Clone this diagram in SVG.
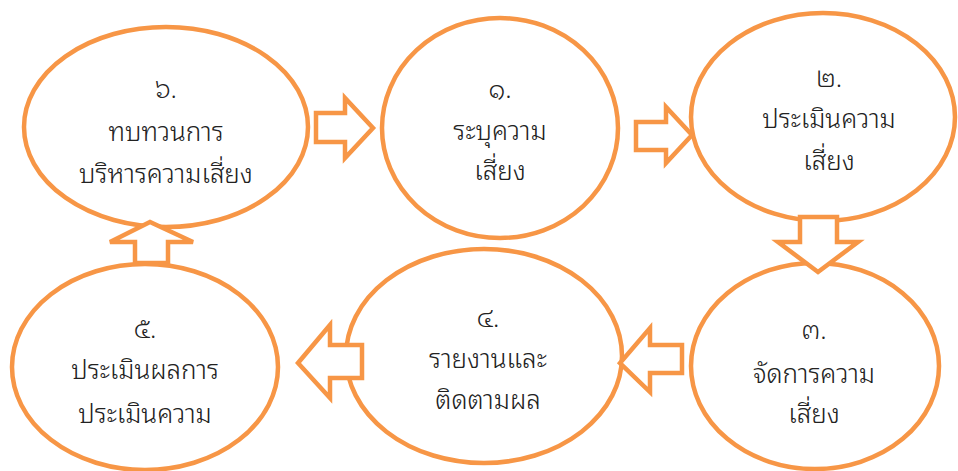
<svg xmlns="http://www.w3.org/2000/svg" width="958" height="471" viewBox="0 0 958 471">
<style>
.node ellipse{fill:#fff;stroke:#F79646;stroke-width:4.5}
.arr{fill:#fff;stroke:#F79646;stroke-width:4.5;stroke-linejoin:miter}
text{font-family:"Noto Sans Thai Looped","Tahoma","Loma","Garuda","Norasi","Noto Sans Thai","Noto Sans","DejaVu Sans",sans-serif;font-size:26px;font-weight:300;fill:#222;text-anchor:middle}
</style>
<rect width="958" height="471" fill="#fff"/>
<g id="n6" class="node"><ellipse cx="166" cy="127" rx="142" ry="100"/>
<text x="166" y="98">๖.</text><text x="166" y="141">ทบทวนการ</text><text x="166" y="183">บริหารความเสี่ยง</text></g>
<g id="n1" class="node"><ellipse cx="500" cy="128" rx="118" ry="110"/>
<text x="500" y="98">๑.</text><text x="500" y="140">ระบุความ</text><text x="500" y="180">เสี่ยง</text></g>
<g id="n2" class="node"><ellipse cx="823" cy="117" rx="132" ry="104"/>
<text x="829" y="87">๒.</text><text x="829" y="128">ประเมินความ</text><text x="829" y="170">เสี่ยง</text></g>
<g id="n3" class="node"><ellipse cx="815" cy="366" rx="124" ry="103"/>
<text x="814" y="339">๓.</text><text x="814" y="383">จัดการความ</text><text x="814" y="423">เสี่ยง</text></g>
<g id="n4" class="node"><ellipse cx="484" cy="356" rx="138" ry="107"/>
<text x="488" y="327">๔.</text><text x="488" y="368">รายงานและ</text><text x="488" y="409">ติดตามผล</text></g>
<g id="n5" class="node"><ellipse cx="145" cy="367" rx="133" ry="103"/>
<text x="145" y="338">๕.</text><text x="145" y="379">ประเมินผลการ</text><text x="145" y="423">ประเมินความ</text></g>
<g id="connectors">
<polygon class="arr" points="316,113 345,113 345,98 373,128 345,158 345,142 316,142"/>
<polygon class="arr" points="636,122 666,122 666,107 692,135 666,163 666,150 636,150"/>
<polygon class="arr" points="800,217 837,217 837,242 858,242 818,272 778,242 800,242"/>
<polygon class="arr" points="682,345 650,345 650,328 620,363 650,392 650,373 682,373"/>
<polygon class="arr" points="362,345 330,345 330,325 298,363 330,398 330,378 362,378"/>
<polygon class="arr" points="135,263 135,242 110,242 150,222 193,242 168,242 168,263"/>
</g>
</svg>
